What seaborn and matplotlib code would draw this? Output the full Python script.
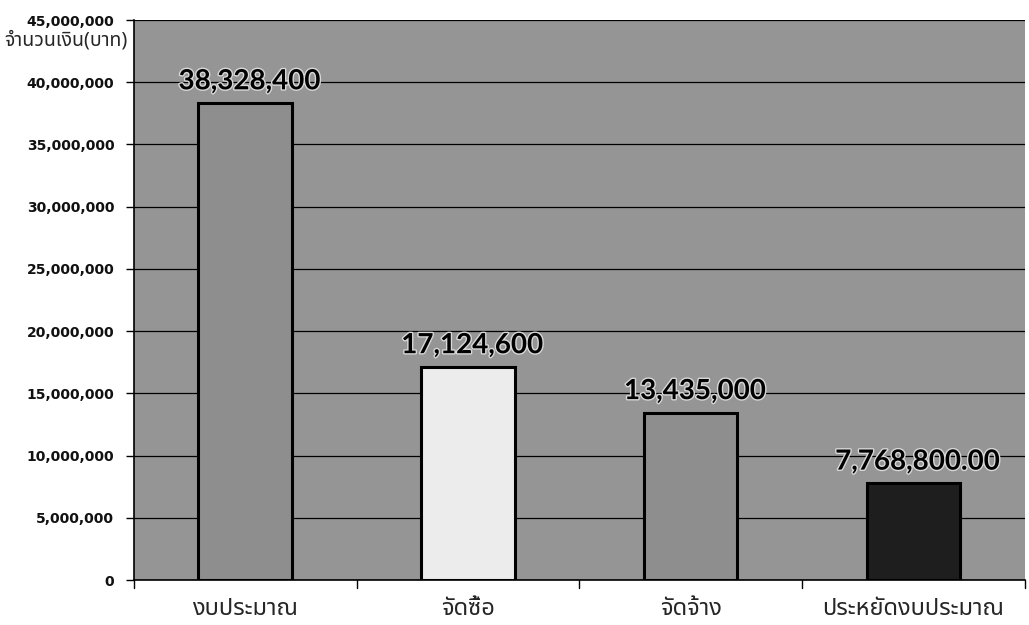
import matplotlib
matplotlib.use("Agg")
import matplotlib.pyplot as plt
import matplotlib.patheffects as pe
from matplotlib.ticker import FuncFormatter, MultipleLocator
import seaborn as sns

# data
categories = ["งบประมาณ", "จัดซื้อ", "จัดจ้าง", "ประหยัดงบประมาณ"]
amounts = [38328400, 17124600, 13435000, 7768800]
value_labels = ["38,328,400", "17,124,600", "13,435,000", "7,768,800.00"]
bar_colors = ["#8e8e8e", "#ececec", "#8e8e8e", "#1e1e1e"]
y_label = "จำนวนเงิน(บาท)"

sns.set_theme(style="white")
thai_fonts = ["Noto Sans Thai", "Loma", "Garuda", "Norasi", "Tlwg Typo",
              "DejaVu Sans", "Noto Sans", "Noto Sans CJK SC"]
plt.rcParams["font.family"] = thai_fonts

fig = plt.figure(figsize=(10.29, 6.25), dpi=100)
ax = fig.add_axes([0.130, 0.072, 0.866, 0.896])
ax.set_facecolor("#959595")

sns.barplot(x=categories, y=amounts, hue=categories, palette=bar_colors,
            legend=False, width=0.42, edgecolor="black", linewidth=2.2,
            saturation=1, ax=ax, zorder=3)

ax.set_ylim(0, 45000000)
ax.yaxis.set_major_locator(MultipleLocator(5000000))
ax.yaxis.set_major_formatter(FuncFormatter(lambda v, _: f"{v:,.0f}"))
ax.grid(axis="y", color="black", linewidth=0.9, zorder=1)
ax.set_axisbelow(True)

for side in ["top", "right"]:
    ax.spines[side].set_visible(False)
ax.spines["left"].set_color("black")
ax.spines["left"].set_linewidth(1.2)
ax.spines["bottom"].set_color("black")
ax.spines["bottom"].set_linewidth(1.2)

ax.tick_params(axis="y", length=6, width=1, color="black", labelsize=10,
               pad=8, left=True)
ax.tick_params(axis="x", length=0, labelsize=17, pad=12)
for t in ax.get_yticklabels():
    t.set_fontweight("bold")
    t.set_family(["DejaVu Sans"])
    t.set_color("#111111")

# category separator ticks on x-axis
for b in [-0.5, 0.5, 1.5, 2.5, 3.5]:
    ax.plot([b, b], [0, -0.015], transform=ax.get_xaxis_transform(),
            color="black", linewidth=1, clip_on=False)
ax.set_xlim(-0.5, 3.5)

for bar, txt in zip(ax.patches, value_labels):
    x = bar.get_x() + bar.get_width() / 2
    ax.text(x + 0.02, bar.get_height() + 700000, txt, ha="center", va="bottom",
            fontsize=20, fontweight="bold", color="black",
            family=["Lato", "DejaVu Sans"], zorder=5,
            path_effects=[pe.withStroke(linewidth=2, foreground="#d8d8d8")])

ax.set_xlabel("")
ax.set_ylabel("")
fig.text(0.004, 0.935, y_label, fontsize=14, fontweight="bold",
         ha="left", va="center")

fig.savefig("out.png", dpi=100)
